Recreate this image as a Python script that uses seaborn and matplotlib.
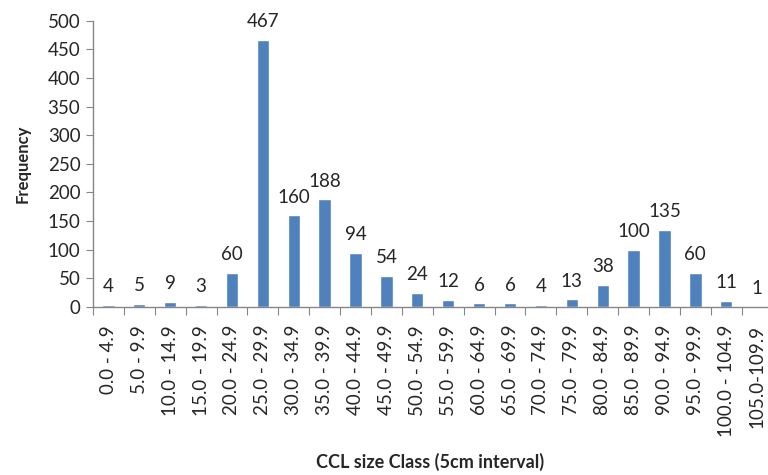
import matplotlib
matplotlib.use("Agg")
import matplotlib.pyplot as plt
import seaborn as sns
import pandas as pd

# data
classes = ['0.0 - 4.9', '5.0 - 9.9', '10.0 - 14.9', '15.0 - 19.9', '20.0 - 24.9',
           '25.0 - 29.9', '30.0 - 34.9', '35.0 - 39.9', '40.0 - 44.9', '45.0 - 49.9',
           '50.0 - 54.9', '55.0 - 59.9', '60.0 - 64.9', '65.0 - 69.9', '70.0 - 74.9',
           '75.0 - 79.9', '80.0 - 84.9', '85.0 - 89.9', '90.0 - 94.9', '95.0 - 99.9',
           '100.0 - 104.9', '105.0-109.9']
freq = [4, 5, 9, 3, 60, 467, 160, 188, 94, 54, 24, 12, 6, 6, 4, 13, 38, 100, 135, 60, 11, 1]

df = pd.DataFrame({'cls': classes, 'freq': freq})

sns.set_style('white')
plt.rcParams['font.family'] = ['Lato', 'DejaVu Sans']

txt = '#262626'
axc = '#868686'
fs = 13.5

fig = plt.figure(figsize=(7.68, 4.75), dpi=100)
ax = fig.add_axes([0.121, 0.354, 0.885, 0.602])

sns.barplot(data=df, x='cls', y='freq', color='#4F81BD', saturation=1,
            width=0.4, ax=ax)

# value labels above the bars
for i, v in enumerate(freq):
    ax.annotate(str(v), (i, v), xytext=(0, 7), textcoords='offset points',
                ha='center', va='bottom', fontsize=fs, color=txt)

ax.set_ylim(0, 500)
ax.set_yticks(range(0, 501, 50))
ax.set_xlim(-0.5, len(classes) - 0.5)

# ticks at category boundaries on x, like Excel
ax.set_xticks([i - 0.5 for i in range(len(classes) + 1)], minor=False)
ax.set_xticklabels([''] * (len(classes) + 1))
ax.set_xticks(range(len(classes)), minor=True)
ax.set_xticklabels(classes, minor=True, rotation=90, fontsize=fs, color=txt)
ax.tick_params(axis='x', which='major', length=6, color=axc, direction='out', bottom=True)
ax.tick_params(axis='x', which='minor', length=0, pad=13)
ax.tick_params(axis='y', length=5, color=axc, direction='out', left=True,
               labelsize=fs, labelcolor=txt, pad=4)

for s in ['top', 'right']:
    ax.spines[s].set_visible(False)
for s in ['left', 'bottom']:
    ax.spines[s].set_color(axc)
    ax.spines[s].set_linewidth(1)

ax.set_xlabel('')
ax.set_ylabel('Frequency', fontsize=12, fontweight='bold', color=txt, labelpad=12)
fig.text(0.56, 0.008, 'CCL size Class (5cm interval)', ha='center', va='bottom',
         fontsize=13, fontweight='bold', color=txt)

fig.savefig('out.png', dpi=100)
